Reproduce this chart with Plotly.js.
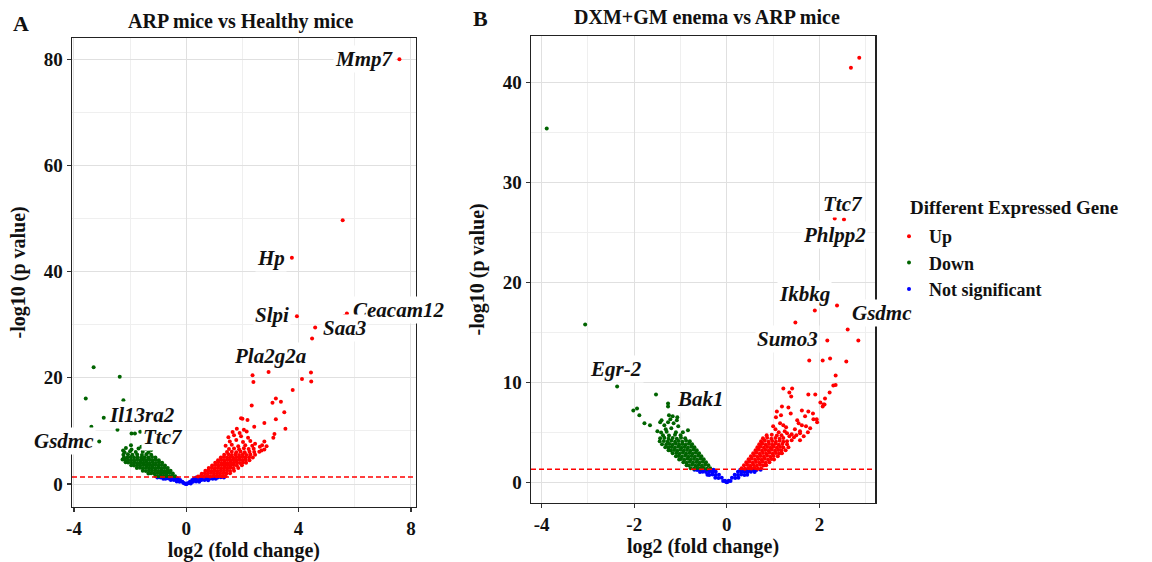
<!DOCTYPE html>
<html><head><meta charset="utf-8">
<script src="https://cdn.plot.ly/plotly-3.0.1.min.js"></script>
<style>html,body{margin:0;padding:0;background:#fff}#chart{width:1152px;height:562px}</style>
</head><body><div id="chart"></div>
<script>
// ---------- Panel A : ARP mice vs Healthy mice ----------
const aUp = [
[7.59,80.0],[5.57,49.7],[3.76,42.6],[3.94,31.6],[5.63,31.6],[5.72,32.1],[4.59,29.5],[4.48,27.4],
[2.36,20.5],[2.39,19.2],[2.93,21.1],[4.44,21.0],[4.12,19.8],[4.45,19.3],[3.79,17.7],[3.19,16.1],
[3.07,15.3],[3.37,15.5],[2.33,14.8],[3.49,13.5],[2.00,12.3],[2.18,12.05],[3.19,12.2],[2.78,11.5],
[3.53,10.4],[3.14,9.4],[3.10,8.7],[1.95,12.4],[2.42,10.8],[2.78,8.0],[2.86,7.1],
[0.42,1.42],[0.52,1.5],[0.63,1.44],[0.74,1.52],[0.85,1.43],[0.96,1.5],[1.07,1.45],[1.18,1.52],[1.29,1.44],[1.40,1.48],
[0.55,1.95],[0.66,2.05],[0.77,1.98],[0.88,2.06],[0.99,1.96],[1.10,2.04],[1.21,1.97],[1.32,2.05],[1.43,1.98],[1.56,2.02],
[0.68,2.48],[0.79,2.56],[0.90,2.47],[1.01,2.55],[1.12,2.46],[1.23,2.54],[1.34,2.48],[1.45,2.56],[1.56,2.47],[1.70,2.52],
[0.80,3.0],[0.91,3.08],[1.02,2.98],[1.13,3.06],[1.24,2.97],[1.35,3.05],[1.46,2.99],[1.57,3.07],[1.68,2.98],[1.85,3.02],
[0.92,3.5],[1.03,3.58],[1.14,3.48],[1.25,3.56],[1.36,3.47],[1.47,3.55],[1.58,3.49],[1.69,3.57],[1.80,3.48],[1.98,3.52],
[1.03,4.0],[1.14,4.08],[1.25,3.98],[1.36,4.06],[1.47,3.97],[1.58,4.05],[1.69,3.99],[1.80,4.07],[1.91,3.98],[2.02,4.05],[2.13,4.0],
[1.13,4.5],[1.24,4.58],[1.35,4.48],[1.46,4.56],[1.57,4.47],[1.68,4.55],[1.79,4.49],[1.90,4.57],[2.01,4.48],[2.12,4.55],[2.25,4.5],
[1.23,5.0],[1.34,5.08],[1.45,4.98],[1.56,5.06],[1.67,4.97],[1.78,5.05],[1.89,4.99],[2.00,5.07],[2.11,4.98],[2.24,5.05],[2.37,5.0],
[1.35,5.5],[1.50,5.6],[1.62,5.45],[1.75,5.58],[1.88,5.48],[2.01,5.56],[2.14,5.47],[2.28,5.55],[2.45,5.5],
[1.45,6.05],[1.62,6.1],[1.78,5.98],[1.93,6.12],[2.08,6.0],[2.25,6.08],[2.42,6.02],[2.60,6.1],
[1.52,6.6],[1.70,6.7],[1.88,6.55],[2.05,6.72],[2.22,6.6],[2.40,6.65],[2.68,6.3],
[1.40,7.2],[1.62,7.4],[1.85,7.1],[2.10,7.3],[2.35,7.2],[1.55,8.0],[1.78,8.3],[2.02,7.9],[2.28,8.1],
[1.50,8.8],[1.70,9.2],[1.95,9.0],[2.20,8.7],[2.45,7.6],[1.65,9.8],[1.90,9.6],[2.15,9.9],[1.80,10.4],
[2.05,10.2],[2.62,7.0],[2.78,6.5],[2.70,7.3]
];
const aDown = [
[-3.30,22.0],[-2.37,20.2],[-3.58,16.1],[-2.24,15.8],[-2.94,12.5],[-2.03,11.0],[-3.38,10.8],[-2.45,10.2],
[-1.95,9.5],[-1.83,9.5],[-3.10,8.0],[-1.64,9.85],
[-0.40,1.45],[-0.50,1.52],[-0.60,1.43],[-0.70,1.5],[-0.80,1.44],[-0.90,1.52],[-1.00,1.46],[-1.10,1.5],
[-0.48,2.0],[-0.59,2.06],[-0.70,1.97],[-0.81,2.05],[-0.92,1.98],[-1.03,2.06],[-1.14,1.97],[-1.25,2.04],[-1.35,2.0],
[-0.56,2.5],[-0.67,2.57],[-0.78,2.47],[-0.89,2.55],[-1.00,2.46],[-1.11,2.55],[-1.22,2.48],[-1.33,2.56],[-1.44,2.47],[-1.55,2.52],
[-0.66,3.0],[-0.77,3.07],[-0.88,2.98],[-0.99,3.06],[-1.10,2.97],[-1.21,3.05],[-1.32,2.99],[-1.43,3.07],[-1.54,2.98],[-1.65,3.05],[-1.76,3.0],
[-0.76,3.5],[-0.87,3.58],[-0.98,3.48],[-1.09,3.56],[-1.20,3.47],[-1.31,3.55],[-1.42,3.49],[-1.53,3.57],[-1.64,3.48],[-1.75,3.55],[-1.86,3.5],[-1.96,3.54],
[-0.86,4.0],[-0.97,4.08],[-1.08,3.98],[-1.19,4.06],[-1.30,3.97],[-1.41,4.05],[-1.52,3.99],[-1.63,4.07],[-1.74,3.98],[-1.85,4.05],[-1.96,4.0],[-2.07,4.04],[-2.16,4.1],
[-0.98,4.5],[-1.09,4.58],[-1.20,4.48],[-1.31,4.56],[-1.42,4.47],[-1.53,4.55],[-1.64,4.49],[-1.75,4.57],[-1.86,4.48],[-1.97,4.55],[-2.08,4.5],[-2.19,4.56],[-2.27,4.6],
[-1.10,5.0],[-1.22,5.08],[-1.35,4.98],[-1.48,5.06],[-1.60,4.97],[-1.73,5.05],[-1.86,4.99],[-1.98,5.07],[-2.10,4.98],[-2.22,5.05],
[-1.25,5.5],[-1.42,5.6],[-1.58,5.45],[-1.75,5.58],[-1.92,5.5],[-2.08,5.6],[-2.24,5.5],
[-1.35,6.0],[-1.55,6.1],[-1.80,6.05],[-2.00,6.15],[-2.20,6.0],
[-1.45,6.6],[-1.70,6.7],[-1.95,6.5],[-2.15,6.8],[-1.97,7.3],[-1.60,7.0],[-1.25,6.4],[-2.25,6.3]
];
const aNS = [
[0,0],[0.02,0.05],[-0.02,0.04],
[-0.06,0.12],[-0.10,0.18],
[-0.14,0.45],[-0.24,0.42],[-0.34,0.47],
[-0.22,0.75],[-0.33,0.72],[-0.44,0.78],[-0.55,0.74],
[-0.30,1.0],[-0.41,1.03],[-0.52,0.97],[-0.63,1.02],[-0.74,0.98],[-0.82,1.0],
[-0.37,1.25],[-0.48,1.22],[-0.59,1.27],[-0.70,1.23],[-0.81,1.27],[-0.92,1.22],[-1.03,1.25],
[0.05,0.13],[0.11,0.17],[0.16,0.12],
[0.13,0.45],[0.24,0.42],[0.35,0.47],[0.46,0.44],
[0.21,0.75],[0.32,0.72],[0.43,0.78],[0.54,0.74],[0.65,0.77],[0.78,0.73],
[0.28,1.0],[0.39,1.03],[0.50,0.97],[0.61,1.02],[0.72,0.98],[0.83,1.02],[0.94,0.98],[1.05,1.0],
[0.35,1.25],[0.46,1.22],[0.57,1.27],[0.68,1.23],[0.79,1.27],[0.90,1.22],[1.01,1.26],[1.12,1.23],[1.23,1.27],[1.34,1.24]
];
const aLabels = ['Mmp7','Hp','Slpi','Ceacam12','Saa3','Pla2g2a','Il13ra2','Ttc7','Gsdmc'];
const aLabelX = [6.34, 3.03, 3.07, 7.54, 5.63, 2.98, -1.58, -0.83, -3.21];
const aLabelY = [80.0, 42.6, 31.8, 32.8, 29.3, 24.1, 13.0, 8.9, 8.1];
const aLabelAnchor = ['center','center','center','center','center','center','center','center','right'];

// ---------- Panel B : DXM+GM enema vs ARP mice ----------
const bUp = [
[2.86,42.5],[2.68,41.5],[2.33,26.4],[2.53,26.3],
[2.38,17.7],[1.90,17.2],[1.48,16.0],[2.61,15.3],[2.17,14.2],[2.84,14.2],[1.78,12.2],[2.07,12.2],[2.23,12.4],
[2.58,12.1],[2.35,10.7],[2.30,9.7],[2.35,9.75],[1.41,9.4],[2.22,9.0],[2.02,8.0],[2.09,7.8],[2.07,7.6],[1.86,6.9],[1.94,6.3],
[1.22,9.4],[1.35,9.0],[1.39,8.6],[1.76,8.8],[1.91,8.8],[2.12,8.4],[2.11,7.8],[1.19,7.6],[1.33,7.5],[1.62,7.2],
[1.76,7.1],[1.08,7.1],[1.17,6.7],[1.38,6.9],[1.69,6.6],[1.87,6.3],[1.06,6.5],[1.15,5.9],[1.22,5.7],[1.55,5.9],
[1.62,5.7],[1.71,5.6],[1.47,5.3],[1.58,5.1],[1.40,4.8],[1.50,4.7],[1.58,4.9],[1.35,4.6],[1.40,4.2],
[1.05,5.3],[1.12,5.0],[1.25,5.1],[1.30,4.9],[1.18,4.7],[1.45,4.5],[1.28,5.5],[1.00,5.6],
[1.58,4.2],[1.66,4.6],[1.75,5.0],[1.80,5.4],[1.52,6.2],[1.95,6.0],
[0.32,1.42],[0.39,1.37],[0.46,1.43],[0.53,1.38],[0.60,1.44],[0.67,1.37],[0.74,1.42],
[0.37,1.7],[0.44,1.75],[0.51,1.66],[0.58,1.74],[0.65,1.67],[0.72,1.75],[0.79,1.68],[0.85,1.72],
[0.42,2.0],[0.49,2.05],[0.56,1.96],[0.63,2.04],[0.70,1.97],[0.77,2.05],[0.84,1.96],[0.92,2.02],
[0.47,2.3],[0.54,2.35],[0.61,2.26],[0.68,2.34],[0.75,2.27],[0.82,2.35],[0.89,2.26],[0.96,2.33],[1.02,2.28],
[0.52,2.6],[0.59,2.65],[0.66,2.56],[0.73,2.64],[0.80,2.57],[0.87,2.65],[0.94,2.56],[1.01,2.63],[1.10,2.6],
[0.57,2.9],[0.64,2.95],[0.71,2.86],[0.78,2.94],[0.85,2.87],[0.92,2.95],[0.99,2.86],[1.06,2.93],[1.13,2.88],[1.19,2.92],
[0.62,3.2],[0.69,3.25],[0.76,3.16],[0.83,3.24],[0.90,3.17],[0.97,3.25],[1.04,3.16],[1.11,3.23],[1.18,3.18],[1.27,3.22],
[0.66,3.5],[0.73,3.55],[0.80,3.46],[0.87,3.54],[0.94,3.47],[1.01,3.55],[1.08,3.46],[1.15,3.53],[1.22,3.48],[1.33,3.52],
[0.70,3.8],[0.77,3.85],[0.84,3.76],[0.91,3.84],[0.98,3.77],[1.05,3.85],[1.12,3.76],[1.20,3.83],[1.30,3.8],
[0.74,4.1],[0.82,4.15],[0.90,4.06],[0.98,4.14],[1.06,4.07],[1.14,4.15],[1.22,4.06],[1.30,4.12],
[0.78,4.4],[0.87,4.45],[0.96,4.36],[1.05,4.44],[1.14,4.37],[1.22,4.43],
[0.86,4.7],[0.97,4.75],[1.08,4.68]
];
const bDown = [
[-3.89,35.4],[-3.06,15.8],[-2.37,9.6],[-1.53,8.8],[-1.94,7.4],[-2.02,7.2],[-1.27,7.9],[-1.27,7.6],
[-1.89,6.7],[-1.78,5.9],[-1.66,5.7],[-1.25,6.7],[-1.17,6.6],[-1.07,6.5],[-1.41,6.2],[-1.27,6.0],
[-0.84,5.2],[-1.44,6.0],[-1.35,5.7],[-1.22,6.3],[-1.08,6.2],
[-1.20,5.4],[-1.05,5.6],[-1.32,5.3],[-0.95,5.0],[-1.50,5.1],[-1.15,5.9],
[-0.36,1.42],[-0.43,1.37],[-0.50,1.43],[-0.57,1.38],[-0.64,1.44],[-0.71,1.37],[-0.78,1.42],
[-0.40,1.7],[-0.47,1.75],[-0.54,1.66],[-0.61,1.74],[-0.68,1.67],[-0.75,1.75],[-0.82,1.68],[-0.87,1.72],
[-0.45,2.0],[-0.52,2.05],[-0.59,1.96],[-0.66,2.04],[-0.73,1.97],[-0.80,2.05],[-0.87,1.96],[-0.94,2.02],
[-0.50,2.3],[-0.57,2.35],[-0.64,2.26],[-0.71,2.34],[-0.78,2.27],[-0.85,2.35],[-0.92,2.26],[-0.99,2.33],[-1.03,2.28],
[-0.55,2.6],[-0.62,2.65],[-0.69,2.56],[-0.76,2.64],[-0.83,2.57],[-0.90,2.65],[-0.97,2.56],[-1.04,2.63],[-1.10,2.6],
[-0.60,2.9],[-0.67,2.95],[-0.74,2.86],[-0.81,2.94],[-0.88,2.87],[-0.95,2.95],[-1.02,2.86],[-1.09,2.93],[-1.17,2.9],
[-0.65,3.2],[-0.72,3.25],[-0.79,3.16],[-0.86,3.24],[-0.93,3.17],[-1.00,3.25],[-1.07,3.16],[-1.14,3.23],[-1.21,3.18],[-1.26,3.22],
[-0.70,3.5],[-0.77,3.55],[-0.84,3.46],[-0.91,3.54],[-0.98,3.47],[-1.05,3.55],[-1.12,3.46],[-1.19,3.53],[-1.26,3.48],[-1.33,3.52],
[-0.75,3.8],[-0.82,3.85],[-0.89,3.76],[-0.96,3.84],[-1.03,3.77],[-1.10,3.85],[-1.17,3.76],[-1.24,3.83],[-1.31,3.78],[-1.40,3.82],
[-0.80,4.1],[-0.88,4.15],[-0.96,4.06],[-1.04,4.14],[-1.12,4.07],[-1.20,4.15],[-1.28,4.06],[-1.36,4.13],[-1.45,4.1],
[-0.90,4.4],[-0.99,4.45],[-1.08,4.36],[-1.17,4.44],[-1.26,4.37],[-1.35,4.45],[-1.44,4.4],
[-1.00,4.7],[-1.12,4.75],[-1.25,4.68],[-1.38,4.72],
[-1.10,5.0],[-1.30,5.05],[-1.42,4.98]
];
const bNS = [
[0,0],[0.02,0.06],[-0.02,0.06],
[-0.04,0.15],[-0.08,0.13],
[-0.11,0.45],[-0.18,0.43],[-0.25,0.46],
[-0.17,0.75],[-0.24,0.73],[-0.31,0.77],[-0.38,0.74],[-0.42,0.76],
[-0.24,1.05],[-0.31,1.03],[-0.38,1.07],[-0.45,1.04],[-0.52,1.06],[-0.58,1.03],
[-0.29,1.25],[-0.36,1.23],[-0.43,1.27],[-0.50,1.24],[-0.57,1.26],[-0.64,1.23],[-0.70,1.25],
[0.04,0.15],[0.08,0.13],
[0.11,0.45],[0.18,0.43],[0.25,0.46],
[0.17,0.75],[0.24,0.73],[0.31,0.77],[0.38,0.74],[0.44,0.76],
[0.24,1.05],[0.31,1.03],[0.38,1.07],[0.45,1.04],[0.52,1.06],[0.60,1.03],
[0.29,1.25],[0.36,1.23],[0.43,1.27],[0.50,1.24],[0.57,1.26],[0.64,1.23],[0.73,1.25]
];
const bLabels = ['Ttc7','Phlpp2','Ikbkg','Gsdmc','Sumo3','Egr-2','Bak1'];
const bLabelX = [2.50, 2.32, 1.67, 2.66, 1.30, -2.40, -0.57];
const bLabelY = [27.9, 24.75, 18.85, 16.9, 14.3, 11.3, 8.3];
const bLabelAnchor = ['center','center','center','left','center','center','center'];

// ---------- shared ----------
const groupNames = ['Up','Down','Not significant'];
const groupColors = ['#FF0000','#006400','#0000FF'];
const pThreshold = 1.3; // -log10(0.05)
const aXTicks = [-4,0,4,8], aXMinor = [-2,2,6];
const aYTicks = [0,20,40,60,80], aYMinor = [10,30,50,70];
const bXTicks = [-4,-2,0,2], bXMinor = [-3,-1,1,3];
const bYTicks = [0,10,20,30,40], bYMinor = [5,15,25,35];

const FONT = 'Liberation Serif, Times New Roman, serif';

function trace(pts, gi, xa, ya, legend) {
  return {
    type: 'scatter', mode: 'markers',
    x: pts.map(p => p[0]), y: pts.map(p => p[1]),
    xaxis: xa, yaxis: ya, name: groupNames[gi],
    showlegend: legend, legendrank: gi + 1,
    marker: {color: groupColors[gi], size: 4, line: {width: 0}},
    hoverinfo: 'x+y+name'
  };
}
const data = [
  trace(aNS, 2, 'x', 'y', false), trace(aDown, 1, 'x', 'y', false), trace(aUp, 0, 'x', 'y', false),
  trace(bNS, 2, 'x2', 'y2', true), trace(bDown, 1, 'x2', 'y2', true), trace(bUp, 0, 'x2', 'y2', true)
];

function axis(domain, range, ticks, minor, anchor, titleText, standoff) {
  return {
    domain: domain, range: range, anchor: anchor,
    tickmode: 'array', tickvals: ticks, ticktext: ticks.map(String),
    showgrid: true, gridcolor: '#E0E0E0', gridwidth: 1,
    minor: {tickmode: 'array', tickvals: minor, showgrid: true, gridcolor: '#EFEFEF', gridwidth: 1, ticks: ''},
    zeroline: false, showline: true, mirror: true, linecolor: '#222', linewidth: 1.5,
    ticks: 'outside', ticklen: 4, tickwidth: 1.2, tickcolor: '#333',
    tickfont: {family: FONT, size: 19, color: '#111', weight: 'bold'},
    title: {text: titleText, font: {family: FONT, size: 20, color: '#111', weight: 'bold'}, standoff: standoff},
    fixedrange: true
  };
}

const annotations = [];
function addLabels(labels, xs, ys, anchors, xr, yr) {
  labels.forEach((t, i) => annotations.push({
    x: xs[i], y: ys[i], xref: xr, yref: yr, text: t, showarrow: false,
    xanchor: anchors[i], yanchor: 'middle', bgcolor: 'white', borderpad: 1,
    font: {family: FONT, size: 21, color: '#111', weight: 'bold', style: 'italic'}
  }));
}
addLabels(aLabels, aLabelX, aLabelY, aLabelAnchor, 'x', 'y');
addLabels(bLabels, bLabelX, bLabelY, bLabelAnchor, 'x2', 'y2');
function paperText(text, px, py, size, xanchor) {
  annotations.push({x: px / 1152, y: 1 - py / 562, xref: 'paper', yref: 'paper', text: text,
    showarrow: false, xanchor: xanchor, yanchor: 'middle',
    font: {family: FONT, size: size, color: '#111', weight: 'bold'}});
}
paperText('ARP mice vs Healthy mice', 241, 22, 20, 'center');
paperText('DXM+GM enema vs ARP mice', 707, 17, 20, 'center');
paperText('A', 21, 23, 22, 'center');
paperText('B', 480, 18, 22, 'center');
paperText('Different Expressed Gene', 908, 207, 19, 'left');

const layout = {
  width: 1152, height: 562,
  margin: {l: 0, r: 0, t: 0, b: 0},
  paper_bgcolor: 'white', plot_bgcolor: 'white',
  font: {family: FONT, color: '#111'},
  xaxis: axis([72/1152, 415.7/1152], [-4.07, 8.17], aXTicks, aXMinor, 'y', 'log2 (fold change)', 4),
  yaxis: axis([1-506.7/562, 1-38/562], [-4.27, 84.0], aYTicks, aYMinor, 'x', '-log10 (p value)', 12),
  xaxis2: axis([531/1152, 875/1152], [-4.23, 3.2], bXTicks, bXMinor, 'y2', 'log2 (fold change)', 4),
  yaxis2: axis([1-502.7/562, 1-36/562], [-2.04, 44.67], bYTicks, bYMinor, 'x2', '-log10 (p value)', 12),
  shapes: [
    {type: 'line', xref: 'x domain', yref: 'y', x0: 0, x1: 1, y0: pThreshold, y1: pThreshold,
     line: {color: '#FF0000', width: 1.5, dash: '5px,3px'}},
    {type: 'line', xref: 'x2 domain', yref: 'y2', x0: 0, x1: 1, y0: pThreshold, y1: pThreshold,
     line: {color: '#FF0000', width: 1.5, dash: '5px,3px'}}
  ],
  annotations: annotations,
  legend: {x: 889/1152, xanchor: 'left', y: 1 - 218/562, yanchor: 'top',
    font: {family: FONT, size: 18, color: '#111', weight: 'bold'},
    bgcolor: 'rgba(0,0,0,0)', itemsizing: 'trace', traceorder: 'normal'},
  showlegend: true
};

Plotly.newPlot('chart', data, layout, {displayModeBar: false, staticPlot: true});
</script></body></html>
